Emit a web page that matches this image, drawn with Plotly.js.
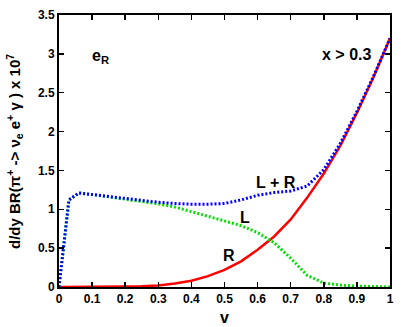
<!DOCTYPE html>
<html>
<head>
<meta charset="utf-8">
<script src="https://cdn.plot.ly/plotly-3.0.1.min.js"></script>
<style>
  html, body { margin: 0; padding: 0; background: #fff; }
  #chart { width: 409px; height: 327px; }
</style>
</head>
<body>
<div id="chart"></div>
<script>
// v values and the three curves
var v   = [0, 0.03, 0.06, 0.1, 0.15, 0.2, 0.25, 0.3, 0.35, 0.4, 0.45, 0.5, 0.55, 0.6, 0.65, 0.7, 0.75, 0.8, 0.85, 0.9, 0.95, 1.0];
var L   = [0, 1.12, 1.21, 1.19, 1.16, 1.13, 1.10, 1.07, 1.03, 0.97, 0.91, 0.85, 0.79, 0.70, 0.57, 0.37, 0.15, 0.05, 0.025, 0.012, 0.005, 0];
var R   = [0, 0, 0, 0.001, 0.002, 0.005, 0.01, 0.02, 0.045, 0.08, 0.14, 0.22, 0.33, 0.48, 0.65, 0.87, 1.15, 1.46, 1.82, 2.24, 2.7, 3.2];
var LpR = [0, 1.12, 1.21, 1.19, 1.162, 1.135, 1.11, 1.09, 1.075, 1.065, 1.065, 1.075, 1.12, 1.18, 1.215, 1.235, 1.30, 1.51, 1.85, 2.26, 2.71, 3.2];

var xTicks = [0, 0.1, 0.2, 0.3, 0.4, 0.5, 0.6, 0.7, 0.8, 0.9, 1];
var yTicks = [0, 0.5, 1, 1.5, 2, 2.5, 3, 3.5];

var fnt = 'Liberation Sans Narrow, Liberation Sans, Arial, sans-serif';

var traceR = {
  x: v, y: R, type: 'scatter', mode: 'lines',
  line: {color: '#ff0000', width: 2.5}
};
var traceL = {
  x: v, y: L, type: 'scatter', mode: 'lines',
  line: {color: '#00e000', width: 3, dash: '2px,2px'}
};
var traceLR = {
  x: v, y: LpR, type: 'scatter', mode: 'lines',
  line: {color: '#0000ff', width: 3, dash: '2px,2px'}
};

var axisStyle = {
  showgrid: false, zeroline: false,
  showline: true, linecolor: '#000', linewidth: 2,
  mirror: 'allticks', ticks: 'inside', ticklen: 5, tickwidth: 1.5, tickcolor: '#000',
  tickfont: {family: fnt, size: 12, color: '#000'}
};

function bold(s) { return '<b>' + s + '</b>'; }

function label(x, y, text, size) {
  return {xref: 'paper', yref: 'paper', x: x, y: y, text: bold(text), showarrow: false,
          xanchor: 'center', yanchor: 'middle',
          font: {family: fnt, size: size || 16, color: '#000'}};
}

var yTitle = label(-0.136, 0.5,
  'd/dy BR(π<sup>+</sup> -> ν<sub>e</sub> e<sup>+</sup> γ ) x 10<sup>7</sup>', 15);
yTitle.textangle = -90;

var layout = {
  width: 409, height: 327,
  margin: {l: 59, r: 19, t: 15, b: 40},
  paper_bgcolor: '#fff', plot_bgcolor: '#fff',
  showlegend: false,
  xaxis: Object.assign({}, axisStyle, {
    range: [0, 1], tickvals: xTicks, ticktext: xTicks.map(function (t) { return bold(String(t)); })
  }),
  yaxis: Object.assign({}, axisStyle, {
    range: [0, 3.5], tickvals: yTicks, ticktext: yTicks.map(function (t) { return bold(String(t)); })
  }),
  annotations: [
    label(0.5, -0.112, 'v', 16),
    yTitle,
    label(0.124, 0.846, 'e<sub>R</sub>'),
    label(0.870, 0.853, 'x > 0.3'),
    label(0.657, 0.384, 'L + R'),
    label(0.562, 0.254, 'L'),
    label(0.514, 0.114, 'R')
  ]
};

Plotly.newPlot('chart', [traceR, traceL, traceLR], layout, {displayModeBar: false, staticPlot: true});
</script>
</body>
</html>
